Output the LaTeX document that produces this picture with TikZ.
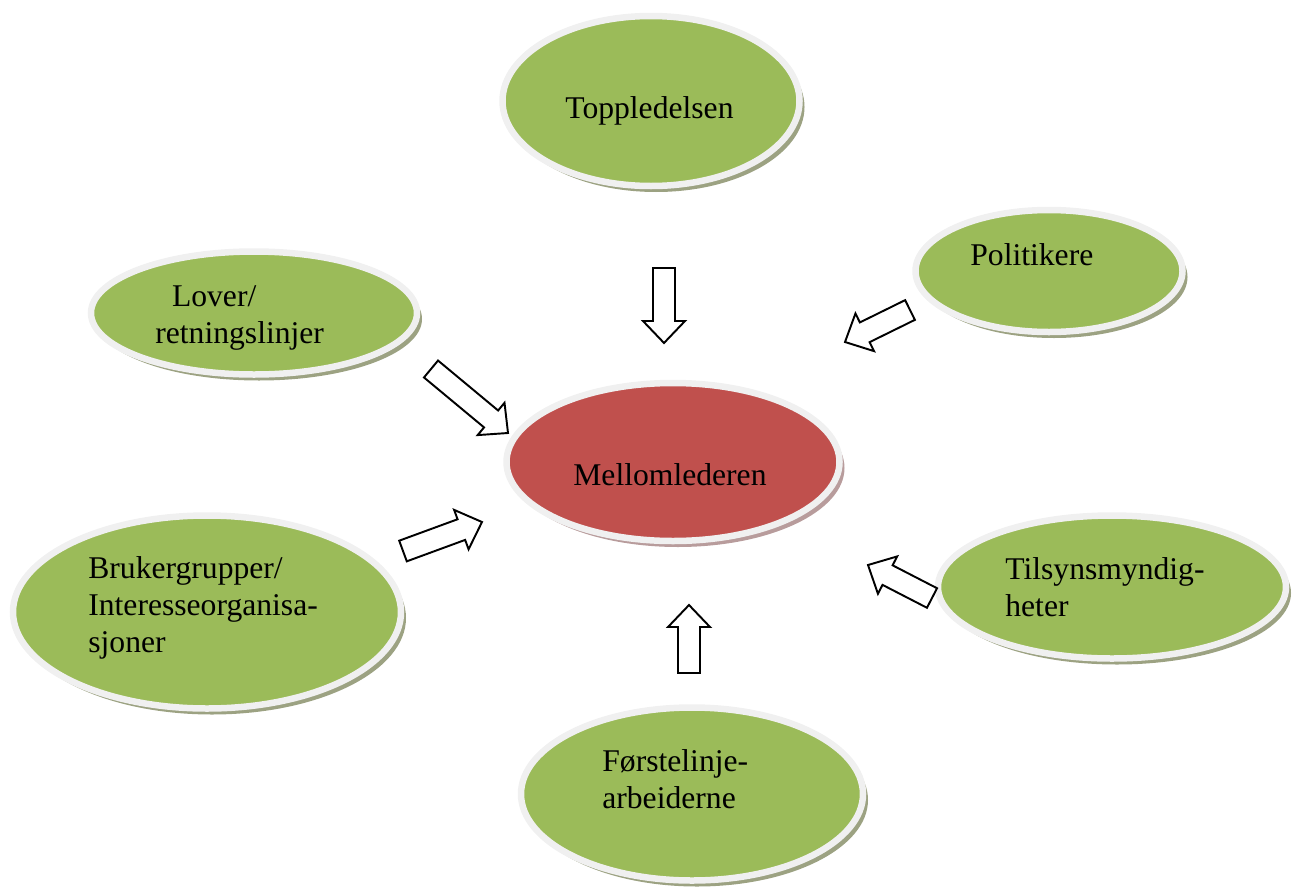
\documentclass[tikz,border=0pt]{standalone}
\usepackage{fontspec}
\setmainfont{Liberation Serif}
\usetikzlibrary{shapes.geometric,shadows,calc}

\definecolor{leafgreen}{HTML}{9BBB59}
\definecolor{brickred}{HTML}{C0504D}
\definecolor{rim}{HTML}{F0F0F0}
\definecolor{leafshade}{HTML}{9CA282}
\definecolor{brickshade}{HTML}{B89C9C}

\tikzset{
  ellsize/.style 2 args={minimum width=#1*0.02cm, minimum height=#2*0.02cm},
  bubble/.style={ellipse, draw=rim, line width=0.13cm, fill=leafgreen, inner sep=0pt,
    drop shadow={shadow xshift=0.1cm, shadow yshift=-0.12cm, opacity=1, fill=leafshade}},
  core/.style={ellipse, draw=rim, line width=0.13cm, fill=brickred, inner sep=0pt,
    drop shadow={shadow xshift=0.1cm, shadow yshift=-0.12cm, opacity=1, fill=brickshade}},
  caption/.style={font=\fontsize{18}{21}\selectfont, inner sep=0pt, anchor=base west, align=left},
  hollow/.style={draw=black, fill=white, line width=1.1pt, line join=miter}
}

% block arrow from tail #1 to tip #2
\newcommand\blockarrow[2]{%
  \coordinate (#1b) at ($(#2)!0.44cm!(#1)$);
  \draw[hollow] ($(#1)!0.22cm!90:(#2)$) -- ($(#1b)!0.22cm!90:(#2)$)
    -- ($(#1b)!0.42cm!90:(#2)$) -- (#2) -- ($(#1b)!0.42cm!-90:(#2)$)
    -- ($(#1b)!0.22cm!-90:(#2)$) -- ($(#1)!0.22cm!-90:(#2)$) -- cycle;
}

\begin{document}
\begin{tikzpicture}[x=0.02cm, y=-0.02cm]
  \useasboundingbox (0,0) rectangle (1294,889);

  % ellipses
  \node[bubble, ellsize={297}{170}] (top)   at (651,101)  {};
  \node[bubble, ellsize={267}{122}] (pol)   at (1049,271) {};
  \node[bubble, ellsize={326}{123}] (law)   at (254,313)  {};
  \node[core,   ellsize={333}{158}] (mid)   at (673,462)  {};
  \node[bubble, ellsize={388}{193}] (user)  at (207,612)  {};
  \node[bubble, ellsize={348}{143}] (insp)  at (1112,587) {};
  \node[bubble, ellsize={342}{173}] (front) at (692,794)  {};

  % texts (base = last line)
  \node[caption] (topT)   at (565,118)  {Toppledelsen};
  \node[caption] (polT)   at (970,265)  {Politikere};
  \node[caption] (lawT)   at (155,343)  {\hspace*{9.5pt}Lover/\\retningslinjer};
  \node[caption] (midT)   at (573,485)  {Mellomlederen};
  \node[caption] (userT)  at (88,652)   {Brukergrupper/\\Interesseorganisa-\\sjoner};
  \node[caption] (inspT)  at (1005,616) {Tilsynsmyndig-\\heter};
  \node[caption] (frontT) at (602,808)  {Førstelinje-\\arbeiderne};

  % arrow ends
  \coordinate (tTop)   at (664,268);  \coordinate (pTop)   at (664,343);
  \coordinate (tPol)   at (910,310);  \coordinate (pPol)   at (845,342);
  \coordinate (tLaw)   at (431,369);  \coordinate (pLaw)   at (508,433);
  \coordinate (tUser)  at (403,551);  \coordinate (pUser)  at (482,522);
  \coordinate (tInsp)  at (932,598);  \coordinate (pInsp)  at (868,565);
  \coordinate (tFront) at (689,673);  \coordinate (pFront) at (689,605);

  \blockarrow{tTop}{pTop}
  \blockarrow{tPol}{pPol}
  \blockarrow{tLaw}{pLaw}
  \blockarrow{tUser}{pUser}
  \blockarrow{tInsp}{pInsp}
  \blockarrow{tFront}{pFront}
\end{tikzpicture}
\end{document}
